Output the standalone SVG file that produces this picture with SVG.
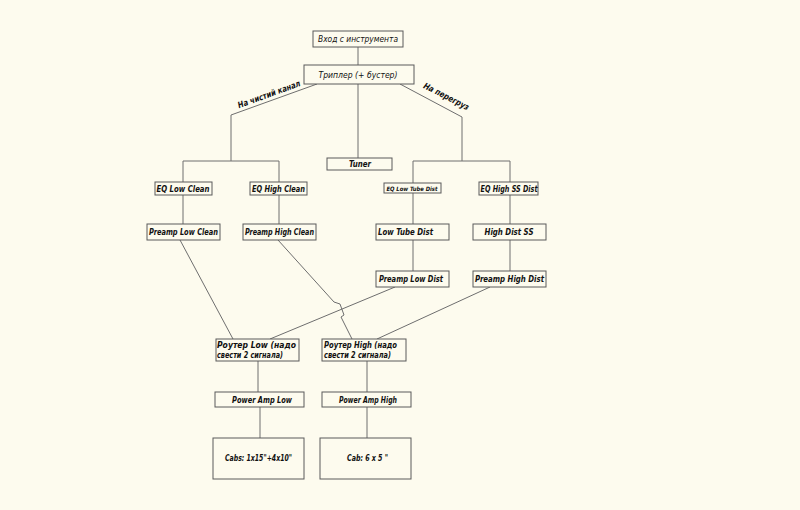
<svg xmlns="http://www.w3.org/2000/svg" width="800" height="510" viewBox="0 0 800 510">
<style>
.bg{fill:#fdfbee}
.box{fill:#fdfbee;stroke:#5a5a5a;stroke-width:1}
.ln{fill:none;stroke:#6e6e6e;stroke-width:1}
text{font-family:"DejaVu Sans Condensed","Liberation Sans Narrow","Liberation Sans",sans-serif;fill:#111;font-style:italic;font-weight:bold;font-size:8.5px}
.thin{font-weight:normal}
.c{text-anchor:middle}
</style>
<rect class="bg" x="0" y="0" width="800" height="510"/>
<g id="connectors">
<path class="ln" d="M358,47 V65"/>
<path class="ln" d="M317,84 L231,115 V161 M183,161 H279 M183,161 V182 M279,161 V182"/>
<path class="ln" d="M358,84 V158"/>
<path class="ln" d="M400,84 L462,117 V161 M413,161 H510 M413,161 V183 M510,161 V183"/>
<path class="ln" d="M183,195 V224 M279,195 V224 M413,193 V224 M510,193 V224"/>
<path class="ln" d="M413,240 V271 M510,240 V271"/>
<path class="ln" d="M180,240 L233,339"/>
<path class="ln" d="M278,240 L334,302 L340,304 L344,315 L341,317 L352,339"/>
<path class="ln" d="M395,287 L270,339"/>
<path class="ln" d="M490,287 L377,339"/>
<path class="ln" d="M258,361 V392 M367,361 V392"/>
<path class="ln" d="M260,407 V438 M367,407 V438"/>
</g>
<g id="label-clean"><text transform="translate(270,97) rotate(-20)" class="c" textLength="66" lengthAdjust="spacingAndGlyphs">На чистий канал</text></g>
<g id="label-drive"><text transform="translate(445,99) rotate(27)" class="c" textLength="50" lengthAdjust="spacingAndGlyphs">На перегруз</text></g>
<g id="input"><rect class="box" x="313" y="31" width="90" height="16"/><text class="thin c" x="358" y="42" textLength="80" lengthAdjust="spacingAndGlyphs">Вход с инструмента</text></g>
<g id="tripler"><rect class="box" x="304" y="65" width="110" height="19"/><text class="thin c" x="358" y="78" textLength="79" lengthAdjust="spacingAndGlyphs">Триплер (+ бустер)</text></g>
<g id="tuner"><rect class="box" x="327" y="158" width="65" height="12"/><text class="c" x="360" y="167" textLength="22" lengthAdjust="spacingAndGlyphs">Tuner</text></g>
<g id="eq-low-clean"><rect class="box" x="155" y="182" width="57" height="13"/><text class="c" x="183" y="191.5" textLength="53" lengthAdjust="spacingAndGlyphs">EQ Low Clean</text></g>
<g id="eq-high-clean"><rect class="box" x="250" y="182" width="57" height="13"/><text class="c" x="278.5" y="191.5" textLength="53" lengthAdjust="spacingAndGlyphs">EQ High Clean</text></g>
<g id="eq-low-tube"><rect class="box" x="384" y="183" width="57" height="10"/><text class="c" x="412" y="190.5" style="font-size:6px" textLength="51" lengthAdjust="spacingAndGlyphs">EQ Low Tube Dist</text></g>
<g id="eq-high-ss"><rect class="box" x="479" y="182" width="59" height="13"/><text class="c" x="509" y="191.5" textLength="57" lengthAdjust="spacingAndGlyphs">EQ High SS Dist</text></g>
<g id="preamp-low-clean"><rect class="box" x="147" y="224" width="73" height="16"/><text class="c" x="183.5" y="235" textLength="69" lengthAdjust="spacingAndGlyphs">Preamp Low Clean</text></g>
<g id="preamp-high-clean"><rect class="box" x="243" y="224" width="73" height="16"/><text class="c" x="279.5" y="235" textLength="69" lengthAdjust="spacingAndGlyphs">Preamp High Clean</text></g>
<g id="low-tube-dist"><rect class="box" x="376" y="224" width="73" height="16"/><text x="378" y="235" textLength="55" lengthAdjust="spacingAndGlyphs">Low Tube Dist</text></g>
<g id="high-dist-ss"><rect class="box" x="473" y="224" width="73" height="16"/><text class="c" x="509" y="235" textLength="49" lengthAdjust="spacingAndGlyphs">High Dist  SS</text></g>
<g id="preamp-low-dist"><rect class="box" x="376" y="271" width="73" height="16"/><text x="379" y="282" textLength="64" lengthAdjust="spacingAndGlyphs">Preamp Low Dist</text></g>
<g id="preamp-high-dist"><rect class="box" x="473" y="271" width="73" height="16"/><text x="475" y="282" textLength="69" lengthAdjust="spacingAndGlyphs">Preamp High Dist</text></g>
<g id="router-low"><rect class="box" x="216" y="339" width="83" height="22"/><text x="217" y="347.5" textLength="79" lengthAdjust="spacingAndGlyphs">Роутер Low (надо</text><text x="217" y="358" textLength="66" lengthAdjust="spacingAndGlyphs">свести 2 сигнала)</text></g>
<g id="router-high"><rect class="box" x="322" y="339" width="84" height="22"/><text x="324" y="347.5" textLength="73" lengthAdjust="spacingAndGlyphs">Роутер High (надо</text><text x="324" y="358" textLength="67" lengthAdjust="spacingAndGlyphs">свести 2 сигнала)</text></g>
<g id="power-amp-low"><rect class="box" x="215" y="392" width="89" height="15"/><text class="c" x="262" y="403" textLength="60" lengthAdjust="spacingAndGlyphs">Power Amp Low</text></g>
<g id="power-amp-high"><rect class="box" x="322" y="392" width="89" height="15"/><text class="c" x="368" y="403" textLength="58" lengthAdjust="spacingAndGlyphs">Power Amp High</text></g>
<g id="cabs-low"><rect class="box" x="213" y="438" width="91" height="41"/><text class="c" x="258.5" y="461" textLength="67" lengthAdjust="spacingAndGlyphs">Cabs: 1x15"+4x10"</text></g>
<g id="cab-high"><rect class="box" x="320" y="438" width="91" height="41"/><text class="c" x="367.5" y="461" textLength="41" lengthAdjust="spacingAndGlyphs">Cab:  6 x 5 "</text></g>
</svg>
